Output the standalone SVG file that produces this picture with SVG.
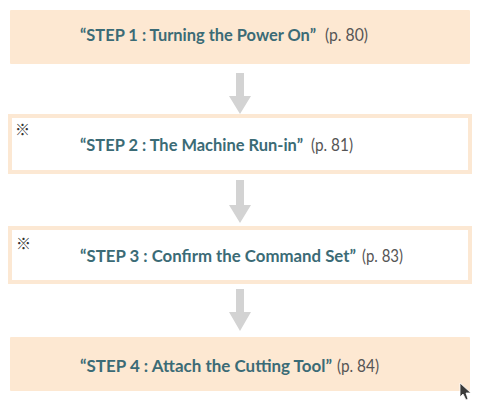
<svg xmlns="http://www.w3.org/2000/svg" width="480" height="403" viewBox="0 0 480 403">
<style>
.fill{fill:#fde8d2;}
.outline{fill:#ffffff;stroke:#fce8d3;stroke-width:4;}
.t{font-family:Lato,"Open Sans",sans-serif;font-size:17px;}
.b{font-weight:700;fill:#3b6b76;}
.r{font-weight:400;fill:#555555;}
.m{font-family:"Noto Sans CJK JP","DejaVu Sans",sans-serif;font-size:15px;fill:#333333;}
.arr{fill:#d3d3d3;}
</style>
<rect width="480" height="403" fill="#ffffff"/>
<g id="connectors">
<path class="arr" d="M236,73 H244 V96 H251 L240,114 L229,96 H236 Z"/>
<path class="arr" d="M236,180 H244 V205 H251 L240,223 L229,205 H236 Z"/>
<path class="arr" d="M236,289 H244 V312 H251 L240,331 L229,312 H236 Z"/>
</g>
<g id="step1">
<rect class="fill" x="10" y="10" width="460" height="54" rx="1"/>
<text class="t" y="41"><tspan class="b" x="80" textLength="236" lengthAdjust="spacingAndGlyphs">“STEP 1 : Turning the Power On”</tspan><tspan class="r" x="325" textLength="43" lengthAdjust="spacingAndGlyphs">(p. 80)</tspan></text>
</g>
<g id="step2">
<rect class="outline" x="10" y="116" width="460" height="56"/>
<text class="m" x="15" y="135">※</text>
<text class="t" y="151"><tspan class="b" x="80" textLength="223" lengthAdjust="spacingAndGlyphs">“STEP 2 : The Machine Run-in”</tspan><tspan class="r" x="311" textLength="42" lengthAdjust="spacingAndGlyphs">(p. 81)</tspan></text>
</g>
<g id="step3">
<rect class="outline" x="10" y="228" width="460" height="54"/>
<text class="m" x="16" y="249">※</text>
<text class="t" y="262"><tspan class="b" x="80" textLength="276" lengthAdjust="spacingAndGlyphs">“STEP 3 : Confirm the Command Set”</tspan><tspan class="r" x="362" textLength="41" lengthAdjust="spacingAndGlyphs">(p. 83)</tspan></text>
</g>
<g id="step4">
<rect class="fill" x="10" y="337" width="460" height="54" rx="1"/>
<text class="t" y="372"><tspan class="b" x="80" textLength="252" lengthAdjust="spacingAndGlyphs">“STEP 4 : Attach the Cutting Tool”</tspan><tspan class="r" x="337" textLength="42" lengthAdjust="spacingAndGlyphs">(p. 84)</tspan></text>
</g>
<path d="M460,383 L460,397 L463,394 L466,400 L468,399 L466,393 L471,393 Z" fill="#3a3a3a" stroke="#ffffff" stroke-width="0.8"/>
</svg>
